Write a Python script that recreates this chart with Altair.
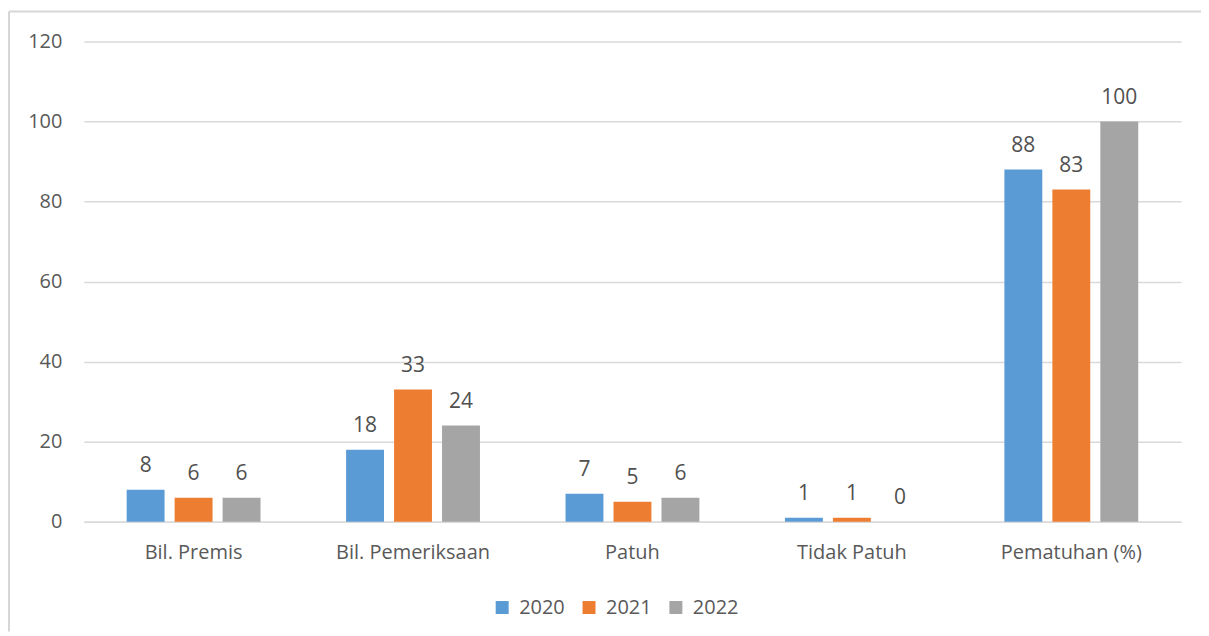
import altair as alt
import pandas as pd

categories = ["Bil. Premis", "Bil. Pemeriksaan", "Patuh", "Tidak Patuh", "Pematuhan (%)"]
years = ["2020", "2021", "2022"]
v2020 = [8, 18, 7, 1, 88]
v2021 = [6, 33, 5, 1, 83]
v2022 = [6, 24, 6, 0, 100]
colors = ["#5B9BD5", "#ED7D31", "#A5A5A5"]
y_ticks = [0, 20, 40, 60, 80, 100, 120]

rows = []
for yr, vals in zip(years, [v2020, v2021, v2022]):
    for c, v in zip(categories, vals):
        rows.append({"Kategori": c, "Tahun": yr, "Nilai": v})
df = pd.DataFrame(rows)

FONT = "Open Sans"
W, H = 1099, 481

x_enc = alt.X("Kategori:N", sort=categories,
              scale=alt.Scale(paddingInner=0.39, paddingOuter=0.195),
              axis=alt.Axis(title=None, labelAngle=0, ticks=False, domain=True,
                            domainColor="#D9D9D9", domainWidth=1.5,
                            labelPadding=21, labelFontSize=20, labelColor="#595959",
                            labelFont=FONT, grid=False))
xo_enc = alt.XOffset("Tahun:N", sort=years, scale=alt.Scale(paddingInner=0.21, paddingOuter=0))
y_enc = alt.Y("Nilai:Q", scale=alt.Scale(domain=[0, 120], nice=False),
              axis=alt.Axis(title=None, values=y_ticks, ticks=False, domain=False,
                            labelPadding=22, labelFontSize=20, labelColor="#595959",
                            labelFont=FONT, gridColor="#D9D9D9", gridWidth=1.5))

base = alt.Chart(df)

bars = base.mark_bar().encode(
    x=x_enc, xOffset=xo_enc, y=y_enc,
    color=alt.Color("Tahun:N", sort=years, scale=alt.Scale(domain=years, range=colors),
                    legend=alt.Legend(title=None, orient="none", direction="horizontal",
                                      legendX=409, legendY=557, symbolType="square",
                                      symbolSize=169, symbolStrokeWidth=0,
                                      labelFontSize=20, labelColor="#595959", labelFont=FONT,
                                      columnPadding=14, labelOffset=7)),
)

labels = base.mark_text(baseline="alphabetic", dy=-18, fontSize=21, color="#505050", font=FONT).encode(
    x=alt.X("Kategori:N", sort=categories), xOffset=alt.XOffset("Tahun:N", sort=years),
    y=alt.Y("Nilai:Q"), text=alt.Text("Nilai:Q"),
)

frame = pd.DataFrame({"a": [0]})
top_line = alt.Chart(frame).mark_rule(color="#D6D6D6", strokeWidth=2).encode(
    x=alt.value(-75), x2=alt.value(W + 30), y=alt.value(-30))
left_line = alt.Chart(frame).mark_rule(color="#D6D6D6", strokeWidth=2).encode(
    x=alt.value(-75), y=alt.value(-30), y2=alt.value(H + 110))

chart = alt.layer(bars, labels, top_line, left_line).properties(
    width=W, height=H,
    padding={"left": 76, "top": 33, "right": 20, "bottom": 110},
    autosize=alt.AutoSizeParams(type="none"),
).configure(background="white", view=alt.ViewConfig(stroke="transparent", strokeWidth=0))

chart.save("out.html", embed_options={"renderer": "svg", "actions": False})
